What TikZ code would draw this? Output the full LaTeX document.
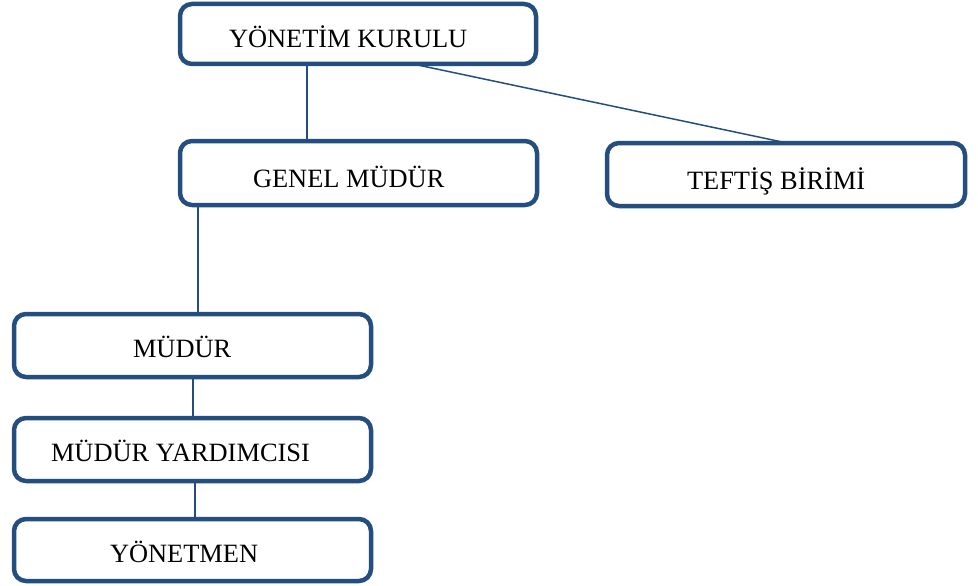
\documentclass[tikz,border=0pt]{standalone}
\usepackage{fontspec}
\setmainfont{Liberation Serif}
\definecolor{boxblue}{RGB}{36,78,128}
\begin{document}
\begin{tikzpicture}[x=1pt,y=-1pt,
  orgbox/.style={draw=boxblue, line width=4.5pt, rounded corners=12pt, rectangle, inner sep=0pt, outer sep=0pt, fill=white},
  lbl/.style={inner sep=0pt, outer sep=0pt, anchor=base west, font=\fontsize{26.4}{30}\selectfont},
  conn/.style={draw=boxblue, line width=1.5pt}]
\useasboundingbox (0,0) rectangle (978,586);
% boxes (stroke-centre geometry)
\node[orgbox, minimum width=356pt, minimum height=60pt] (yk) at (358,34) {};
\node[orgbox, minimum width=357pt, minimum height=64pt] (gm) at (358.5,173) {};
\node[orgbox, minimum width=358pt, minimum height=63pt] (tb) at (786,174.5) {};
\node[orgbox, minimum width=357pt, minimum height=63pt] (md) at (192.5,345.5) {};
\node[orgbox, minimum width=357pt, minimum height=63pt] (my) at (192.5,449.5) {};
\node[orgbox, minimum width=357pt, minimum height=62pt] (yn) at (192.5,550) {};
% labels
\node[lbl] (tyk) at (229,48) {YÖNETİM KURULU};
\node[lbl] (tgm) at (253,187) {GENEL MÜDÜR};
\node[lbl] (ttb) at (687,189) {TEFTİŞ BİRİMİ};
\node[lbl] (tmd) at (133,357) {MÜDÜR};
\node[lbl] (tmy) at (51,461) {MÜDÜR YARDIMCISI};
\node[lbl] (tyn) at (110,562) {YÖNETMEN};
% connectors
\draw[conn] (yk.south -| 307,0) -- (gm.north -| 307,0);
\draw[conn] (yk.south -| 413,0) -- (tb.north -| 787,0);
\draw[conn] (gm.south -| 198,0) -- (md.north -| 198,0);
\draw[conn] (md.south -| 193,0) -- (my.north -| 193,0);
\draw[conn] (my.south -| 195,0) -- (yn.north -| 195,0);
\end{tikzpicture}
\end{document}
